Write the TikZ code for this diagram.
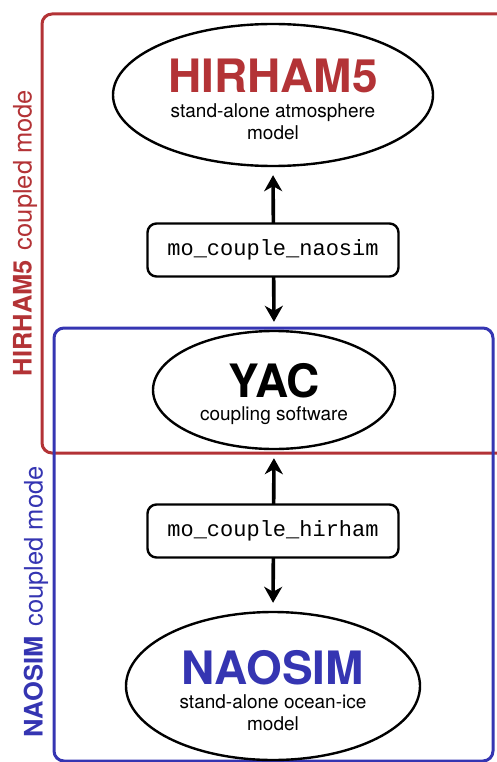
\documentclass[tikz,border=0pt]{standalone}
\usepackage{fontspec}
\setmainfont{TeX Gyre Heros}
\setmonofont{Liberation Mono}
\usetikzlibrary{shapes.geometric,arrows.meta}
\definecolor{HirhamRed}{HTML}{B33336}
\definecolor{NaosimBlue}{HTML}{3535B2}

\tikzset{
  model/.style={ellipse, draw, line width=2.4pt, fill=white, inner sep=0pt},
  modeltext/.style={align=center, inner sep=0pt, font=\fontsize{19}{22}\selectfont},
  routine/.style={draw, line width=2.4pt, rounded corners=9pt, fill=white,
    minimum width=251pt, minimum height=53pt, font=\ttfamily\fontsize{22}{26}\selectfont},
  couple/.style={line width=3.6pt, {Stealth[length=16pt,width=18pt,inset=5pt]}-{Stealth[length=16pt,width=18pt,inset=5pt]}, shorten <=8pt, shorten >=8pt},
  modebox/.style={line width=3pt, rounded corners=10pt},
  modelabel/.style={rotate=90, font=\fontsize{25.5}{28}\selectfont}
}

\newcommand{\bigname}[1]{{\fontsize{46}{48}\selectfont\bfseries #1}}

\begin{document}
\begin{tikzpicture}[x=1pt,y=-1pt]
  \useasboundingbox (0,0) rectangle (496,762);

  % coupled mode frames
  \draw[modebox, HirhamRed] (42,14) rectangle (520,453);
  \draw[modebox, NaosimBlue] (54,328) rectangle (493,761);

  \node[modelabel, text=HirhamRed] (hirhamlabel) at (25,233) {\textbf{HIRHAM5}\hspace{10pt}coupled mode};
  \node[modelabel, text=NaosimBlue] (naosimlabel) at (36,602) {\textbf{NAOSIM}\hspace{10pt}coupled mode};

  % models
  \node[model, minimum width=320pt, minimum height=142pt] (hirham) at (273,95) {};
  \node[model, minimum width=242pt, minimum height=118pt] (yac) at (274,390) {};
  \node[model, minimum width=294pt, minimum height=148pt] (naosim) at (273,686) {};

  \node[modeltext] (hirhamtext) at (273,99)
    {\textcolor{HirhamRed}{\bigname{HIRHAM5}}\\[3pt]stand-alone atmosphere\\model};
  \node[modeltext] (yactext) at (274,394.5)
    {\bigname{YAC}\\[1pt]coupling software};
  \node[modeltext] (naosimtext) at (273,690.5)
    {\textcolor{NaosimBlue}{\bigname{NAOSIM}}\\[2pt]stand-alone ocean-ice\\model};

  % coupling routines
  \draw[couple] (hirham.south) -- (yac.north);
  \draw[couple] (yac.south) -- (naosim.north);
  \node[routine] (cplnaosim) at (273,250) {mo\_couple\_naosim};
  \node[routine] (cplhirham) at (273,531) {mo\_couple\_hirham};
\end{tikzpicture}
\end{document}
